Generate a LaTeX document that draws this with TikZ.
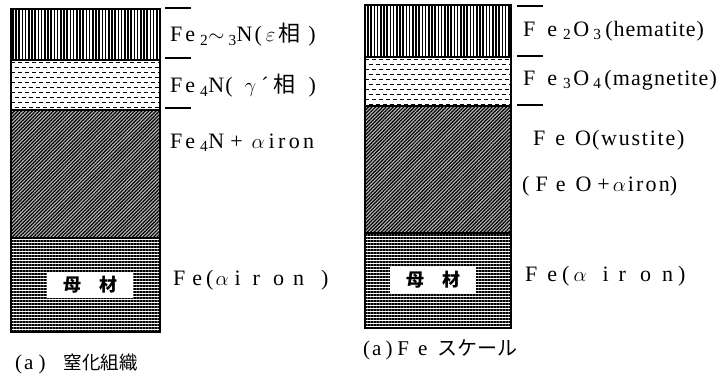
\documentclass[tikz,border=0pt]{standalone}
\usepackage{fontspec}
\setmainfont{Liberation Serif}
\newfontfamily\jpfont{Noto Sans CJK JP}
\newcommand\jp[2][19]{{\jpfont\fontsize{#1}{22}\selectfont #2}}
\newcommand\spaced[2]{{\addfontfeature{LetterSpace=#1}#2}}
\usetikzlibrary{patterns.meta}

\begin{document}
\begin{tikzpicture}[
    x=1pt,
    y=-1pt,
    layer/.style={
        draw,
        line width=1.5pt
    },
    vlayer/.style={
        layer,
        pattern={Lines[angle=90, distance=3.2pt, line width=1.5pt]}
    },
    dlayer/.style={
        layer
    },
    hatched/.style={
        layer,
        preaction={fill=gray!55},
        pattern={Lines[angle=45, distance=2.5pt, line width=1.2pt]}
    },
    hlayer/.style={
        layer,
        pattern={Lines[angle=0, distance=3pt, line width=1.5pt]}
    },
    tick/.style={
        line width=1.3pt
    },
    phase/.style={
        anchor=west,
        inner sep=0pt,
        font=\fontsize{22}{26}\selectfont
    },
    basebox/.style={
        fill=white,
        inner sep=0pt,
        minimum width=86pt,
        minimum height=26pt,
        font=\jpfont\bfseries\fontsize{18}{20}\selectfont
    },
    caption/.style={
        anchor=west,
        inner sep=0pt,
        font=\fontsize{21}{24}\selectfont
    }
]
\useasboundingbox (0,0) rectangle (718,373);

% Nitrided layers (left)
\draw [vlayer] (11,9) rectangle (160,60);
\begin{scope}
    \clip (11,60) rectangle (160,110);
    \foreach \row in {0,...,9}
        \foreach \col in {0,...,22}
            \draw [line width=1.9pt] ({11+\col*7+mod(\row,2)*3.5},{62.5+\row*5}) -- ++(4,0);
\end{scope}
\draw [dlayer] (11,60) rectangle (160,110);
\draw [hatched] (11,110) rectangle (160,238);
\draw [hlayer] (11,238) rectangle (160,332);
\node [basebox] (baseL) at (90,285) {母\hspace{1em}材};

% Oxide scale layers (right)
\draw [vlayer] (365,5) rectangle (511,57);
\begin{scope}
    \clip (365,57) rectangle (511,106);
    \foreach \row in {0,...,9}
        \foreach \col in {0,...,22}
            \draw [line width=1.9pt] ({365+\col*7+mod(\row,2)*3.5},{59.5+\row*5}) -- ++(4,0);
\end{scope}
\draw [dlayer] (365,57) rectangle (511,106);
\draw [hatched] (365,106) rectangle (511,233);
\draw [hlayer] (365,233) rectangle (511,328);
\node [basebox] (baseR) at (433,280) {母\hspace{1em}材};

% Boundary ticks
\draw [tick] (165,8) -- (191,8);
\draw [tick] (165,58) -- (191,58);
\draw [tick] (165,108) -- (191,108);
\draw [tick] (517,6) -- (543,6);
\draw [tick] (517,56) -- (543,56);
\draw [tick] (517,105) -- (543,105);

% Phase names (left)
\node [phase] (epsL) at (170,35) {F\hspace{3pt}e\hspace{5pt}\textsubscript{2}$\sim$\hspace{4pt}\textsubscript{3}N\hspace{2pt}(\hspace{4pt}$\varepsilon$\hspace{3pt}\jp[22]{相}\hspace{8pt})};
\node [phase] (gamL) at (170,86) {F\hspace{3pt}e\hspace{5pt}\textsubscript{4}N\hspace{1pt}(\hspace{12pt}$\gamma$\hspace{5pt}\textasciiacute\hspace{5pt}\jp[22]{相}\hspace{13pt})};
\node [phase] (mixL) at (170,143) {F\hspace{3pt}e\hspace{5pt}\textsubscript{4}N\hspace{6pt}+\hspace{9pt}$\alpha$\hspace{4pt}\spaced{15}{iron}};
\node [phase] (feL) at (173,280) {F\hspace{7pt}e\hspace{4pt}(\hspace{2pt}$\alpha$\hspace{6pt}i\hspace{12pt}r\hspace{13pt}o\hspace{9pt}n\hspace{17pt})};

% Phase names (right)
\node [phase] (hemR) at (523,31) {F\hspace{12pt}e\hspace{6pt}\textsubscript{2}\hspace{2pt}O\hspace{4pt}\textsubscript{3}\hspace{4pt}\spaced{4}{(hematite)}};
\node [phase] (magR) at (523,80) {F\hspace{12pt}e\hspace{6pt}\textsubscript{3}\hspace{2pt}O\hspace{4pt}\textsubscript{4}\hspace{3pt}\spaced{5}{(magnetite)}};
\node [phase] (wusR) at (533,140) {F\hspace{10pt}e\hspace{10pt}O\hspace{1pt}\spaced{8}{(wustite)}};
\node [phase] (mixR) at (522,186) {(\hspace{6pt}F\hspace{8pt}e\hspace{10pt}O\hspace{6pt}+\hspace{3pt}$\alpha$\hspace{2pt}\spaced{10}{iron})};
\node [phase] (feR) at (525,276) {F\hspace{10pt}e\hspace{5pt}(\hspace{4pt}$\alpha$\hspace{16pt}i\hspace{10pt}r\hspace{14pt}o\hspace{11pt}n\hspace{5pt})};

% Captions
\node [caption] (capL) at (15,364) {(\hspace{2pt}a\hspace{5pt})\hspace{18pt}\jp[18.5]{窒化組織}};
\node [caption] (capR) at (363,350) {(\hspace{2pt}a\hspace{4pt})\hspace{5pt}F\hspace{9pt}e\hspace{10pt}\jp[20]{スケール}};

\end{tikzpicture}
\end{document}
